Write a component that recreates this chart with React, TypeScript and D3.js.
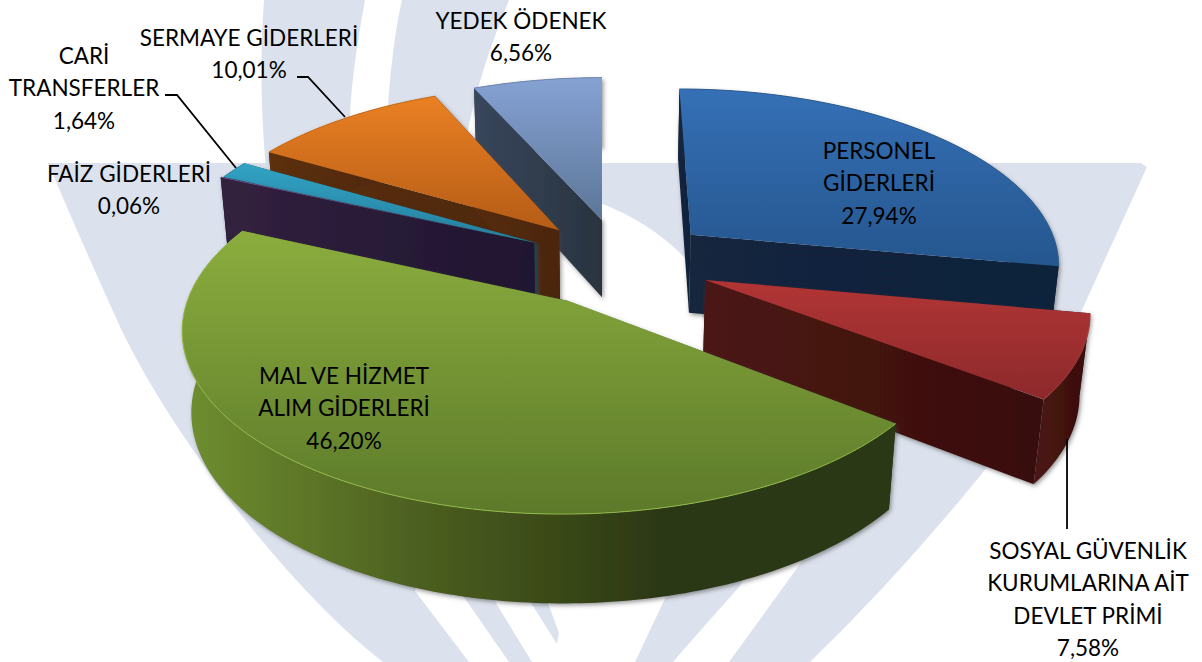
import React from "react";
import * as d3 from "d3";

// ---- data ----
const categories = ["PERSONEL GİDERLERİ", "SOSYAL GÜVENLİK KURUMLARINA AİT DEVLET PRİMİ", "MAL VE HİZMET ALIM GİDERLERİ", "FAİZ GİDERLERİ", "CARİ TRANSFERLER", "SERMAYE GİDERLERİ", "YEDEK ÖDENEK"];
const values = [27.94, 7.58, 46.2, 0.06, 1.64, 10.01, 6.56];
const valueLabels = ["27,94%", "7,58%", "46,20%", "0,06%", "1,64%", "10,01%", "6,56%"];

// ---- 3D camera ----
const W = 1202, H = 662;
const cx = 602, cy = 271, F = 366, tilt = 0.507, D = 5.83, depth = 0.2537;
// world-space offset of each slice's apex (explosion) and rim stretch
const sliceOffsetX = [0.25, 0.28, -0.09, -0.19, -0.1835, -0.121, 0];
const sliceOffsetZ = [0.21, -0.05, -0.165, 0.161, 0.161, 0.238, 0.3];
const rimX = [1.02, 1.025, 1.015, 1.032, 1.032, 1.032, 1.032];
const rimZ = [1, 0.98, 0.97, 1, 1, 1, 1];

const topStops = [["#3570b6", "#25568e"], ["#b23535", "#8c292b"], ["#8bad3e", "#5c7a2a"], ["#7a5c9a", "#6a4f88"], ["#31a2c4", "#26809f"], ["#ea8023", "#b55c16"], ["#86a2d4", "#5c7697"]];
const wallStops = [["#12253e", "#11223a"], ["#4c1613", "#380e0e"], ["#6f8f30", "#4c5f20", "#2c3812", "#2c3812"], ["#33213f", "#1f1530"], ["#1c5f70", "#143f4c"], ["#5c300e", "#4a2608"], ["#38465c", "#29333f"]];
const rimColors = ["#2f6094", "#a34040", "#94b848", "#6a4f88", "#2f90b0", "#c87020", "#6f89b0"];
const drawOrder = [6, 5, 4, 3, 0, 1, 2];

type Lab = { lines: string[]; x: number; y: number };
const labelLayout: Lab[] = [
  { lines: ["PERSONEL", "GİDERLERİ"], x: 879, y: 150 },
  { lines: ["SOSYAL GÜVENLİK", "KURUMLARINA AİT", "DEVLET PRİMİ"], x: 1088, y: 550 },
  { lines: ["MAL VE HİZMET", "ALIM GİDERLERİ"], x: 344, y: 375 },
  { lines: ["FAİZ GİDERLERİ"], x: 129, y: 173 },
  { lines: ["CARİ", "TRANSFERLER"], x: 84, y: 55 },
  { lines: ["SERMAYE GİDERLERİ"], x: 249, y: 37 },
  { lines: ["YEDEK ÖDENEK"], x: 521, y: 20 },
];
const leaders = [
  [[297, 77], [308, 77], [345, 117]],
  [[165, 95], [177, 95], [236, 168]],
  [[1067, 439], [1067, 529]],
];
const lineStep = 32.6;

const project = (X: number, Y: number, Z: number): [number, number] => {
  const v = Y * Math.cos(tilt) + Z * Math.sin(tilt);
  const w = Z * Math.cos(tilt) - Y * Math.sin(tilt);
  const s = 1 / (1 + w / D);
  return [cx + F * s * X, cy - F * s * v];
};

const line = d3.line<[number, number]>().x((d) => d[0]).y((d) => d[1]);
const pie = d3.pie<number>().sort(null).startAngle(0).endAngle(2 * Math.PI);

const watermark = [
  "M48,163 L1141,163 L1147,167 L1082,310 Q1040,400 984,471 Q900,575 810,662 L729,662 L800,564 L860,440 L710,340 L684,257 Q650,222 600,203 L540,205 L500,250 L415,591 L469,662 L383,662 C290,590 175,440 122,331 Q85,250 48,163 Z",
  "M264,0 L365,0 Q352,70 350,115 L350,170 L266,170 Q258,80 264,0 Z",
  "M402,0 L509,0 Q480,70 468,130 L468,170 L385,170 Q388,60 402,0 Z",
  "M459,590 L488,590 L532,662 L509,662 Z",
  "M526,595 L545,595 L559,633 L557,644 Z",
  "M635,662 L669,590 L745,575 L740,586 Q705,625 673,662 Z",
];

export default function App() {
  const arcs = pie(values);
  const shapes = arcs.map((a, i) => {
    const ox = sliceOffsetX[i], oz = sliceOffsetZ[i];
    const steps = Math.max(2, Math.ceil(((a.endAngle - a.startAngle) * 180) / Math.PI));
    const angle = d3.scaleLinear().domain([0, steps]).range([a.startAngle, a.endAngle]);
    const rim = d3.range(steps + 1).map((k) => angle(k));
    const pt = (t: number, Y: number) => project(ox + rimX[i] * Math.sin(t), Y, oz + rimZ[i] * Math.cos(t));
    const apexTop = project(ox, 0, oz);
    const apexBot = project(ox, -depth, oz);
    const topRim = rim.map((t) => pt(t, 0));
    const botRim = rim.map((t) => pt(t, -depth));
    return {
      i,
      top: line([apexTop, ...topRim])! + "Z",
      rimLine: line(topRim)!,
      outer: line([...topRim, ...botRim.slice().reverse()])! + "Z",
      wallA: line([apexTop, topRim[0], botRim[0], apexBot])! + "Z",
      wallB: line([apexTop, topRim[steps], botRim[steps], apexBot])! + "Z",
    };
  });

  return (
    <svg width={W} height={H} viewBox={`0 0 ${W} ${H}`} style={{ position: "absolute", left: 0, top: 0, background: "#fff" }}>
      <defs>
        <filter id="sh" x="-10%" y="-10%" width="120%" height="120%">
          <feDropShadow dx="1.5" dy="2" stdDeviation="2" floodColor="#444" floodOpacity="0.55" />
        </filter>
        {values.map((_, i) => (
          <React.Fragment key={i}>
            <linearGradient id={`top${i}`} x1="0" y1="0" x2="0" y2="1">
              {topStops[i].map((c, k) => <stop key={k} offset={k / (topStops[i].length - 1)} stopColor={c} />)}
            </linearGradient>
            <linearGradient id={`wall${i}`} x1="0" y1="0" x2="1" y2="0">
              {wallStops[i].map((c, k) => <stop key={k} offset={k / (wallStops[i].length - 1)} stopColor={c} />)}
            </linearGradient>
          </React.Fragment>
        ))}
      </defs>
      <g fill="#dce2ed">
        {watermark.map((d, i) => <path key={i} d={d} />)}
      </g>
      {drawOrder.map((i) => {
        const s = shapes[i];
        return (
          <g key={i}>
            <g filter="url(#sh)">
              <path d={s.wallA} fill={`url(#wall${i})`} />
              <path d={s.wallB} fill={`url(#wall${i})`} />
              <path d={s.outer} fill={`url(#wall${i})`} />
            </g>
            <path d={s.top} fill={`url(#top${i})`} />
            <path d={s.rimLine} fill="none" stroke={rimColors[i]} strokeWidth={1} />
          </g>
        );
      })}
      {leaders.map((pts, i) => (
        <path key={i} d={line(pts as [number, number][])!} fill="none" stroke="#000" strokeWidth={1.8} />
      ))}
      <g fontFamily="Lato, 'Open Sans', sans-serif" fontSize={22.5} fill="#000" textAnchor="middle">
        {labelLayout.map((l, i) => (
          <text key={i} x={l.x} y={l.y}>
            {[...l.lines, valueLabels[i]].map((t, k) => (
              <tspan key={k} x={l.x} y={l.y + k * lineStep} dominantBaseline="central">{t}</tspan>
            ))}
          </text>
        ))}
      </g>
      <title>{categories.join(", ")}</title>
    </svg>
  );
}
